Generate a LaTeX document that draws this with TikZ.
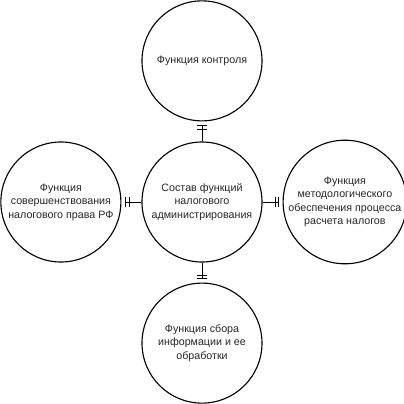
\documentclass[tikz,border=0pt]{standalone}
\usepackage{fontspec}
\setmainfont{Liberation Sans}
\usetikzlibrary{arrows.meta,positioning}

\begin{document}
\begin{tikzpicture}[node distance=0.5cm,
  every node/.style={font=\fontsize{7.6}{9.6}\selectfont},
  func/.style={draw,circle,thick,minimum size=3cm,inner sep=0pt,align=center,text=black!85},
  link/.style={thin,shorten >=2.8pt,-{Bar[width=7.8pt,sep=1.9pt]Bar[width=7.8pt]}}]
\useasboundingbox (-5.05,-5.05) rectangle (5.05,5.05);
\node[func] (sostav) at (0,0) {Состав функций\\налогового\\администрирования};
\node[func,above=of sostav] (kontrol) {Функция контроля};
\node[func,below=of sostav] (sbor) {Функция сбора\\информации и ее\\обработки};
\node[func,left=of sostav] (soversh) {Функция\\совершенствования\\налогового права РФ};
\node[func,right=of sostav] (metod) {Функция\\методологического\\обеспечения процесса\\расчета налогов};
\draw[link] (sostav) -- (kontrol);
\draw[link] (sostav) -- (sbor);
\draw[link] (sostav) -- (soversh);
\draw[link] (sostav) -- (metod);
\end{tikzpicture}
\end{document}
